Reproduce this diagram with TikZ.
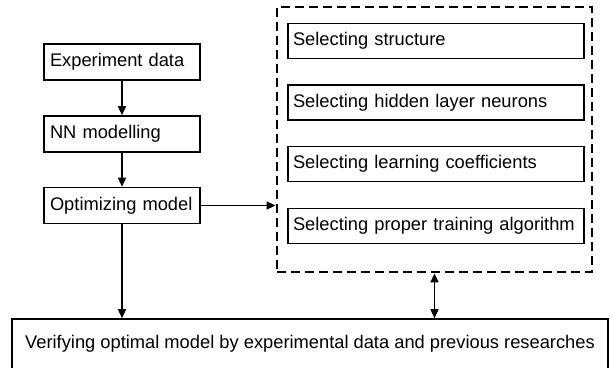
\documentclass[tikz,border=0pt]{standalone}
\usepackage{fontspec}
\setmainfont{Liberation Sans}
\usetikzlibrary{arrows.meta}
\begin{document}
\begin{tikzpicture}[x=1pt,y=-1pt,
  font=\fontsize{18.3}{20}\selectfont,
  box/.style={draw,line width=1.6pt,minimum height=36pt,inner xsep=6pt,
    text width=144pt,align=left},
  selbox/.style={draw,line width=1.6pt,minimum height=35pt,inner xsep=5pt,
    text width=286pt,align=left},
  arr/.style={line width=1.5pt,-{Triangle[length=9pt,width=8pt]}}]
\useasboundingbox (0,0) rectangle (612,367);
% main chain
\node[box] (exp) at (122,62) {Experiment data};
\node[box] (nn) at (122,134) {NN modelling};
\node[box] (opt) at (122,205.5) {Optimizing model};
% selection steps
\node[draw,line width=2.8pt,dash pattern=on 9pt off 5pt,minimum width=315pt,
  minimum height=265pt] (sel) at (434.5,139.5) {};
\node[selbox] (s1) at (436,41) {Selecting structure};
\node[selbox] (s2) at (436,102.5) {Selecting hidden layer neurons};
\node[selbox] (s3) at (436,164) {Selecting learning coefficients};
\node[selbox] (s4) at (436,226) {Selecting proper training algorithm};
% verification
\node[draw,line width=1.6pt,minimum width=596pt,minimum height=50pt] (ver)
  at (310,344) {Verifying optimal model by experimental data and previous researches};
%
\draw[arr] (exp) -- (nn);
\draw[arr] (nn) -- (opt);
\draw[arr] (opt.east) -- (sel.west |- opt.east);
\draw[arr] (opt.south) -- (opt.south |- ver.north);
\draw[arr,{Triangle[length=9pt,width=8pt]}-{Triangle[length=9pt,width=8pt]}]
  (sel.south) -- (sel.south |- ver.north);
\end{tikzpicture}
\end{document}
